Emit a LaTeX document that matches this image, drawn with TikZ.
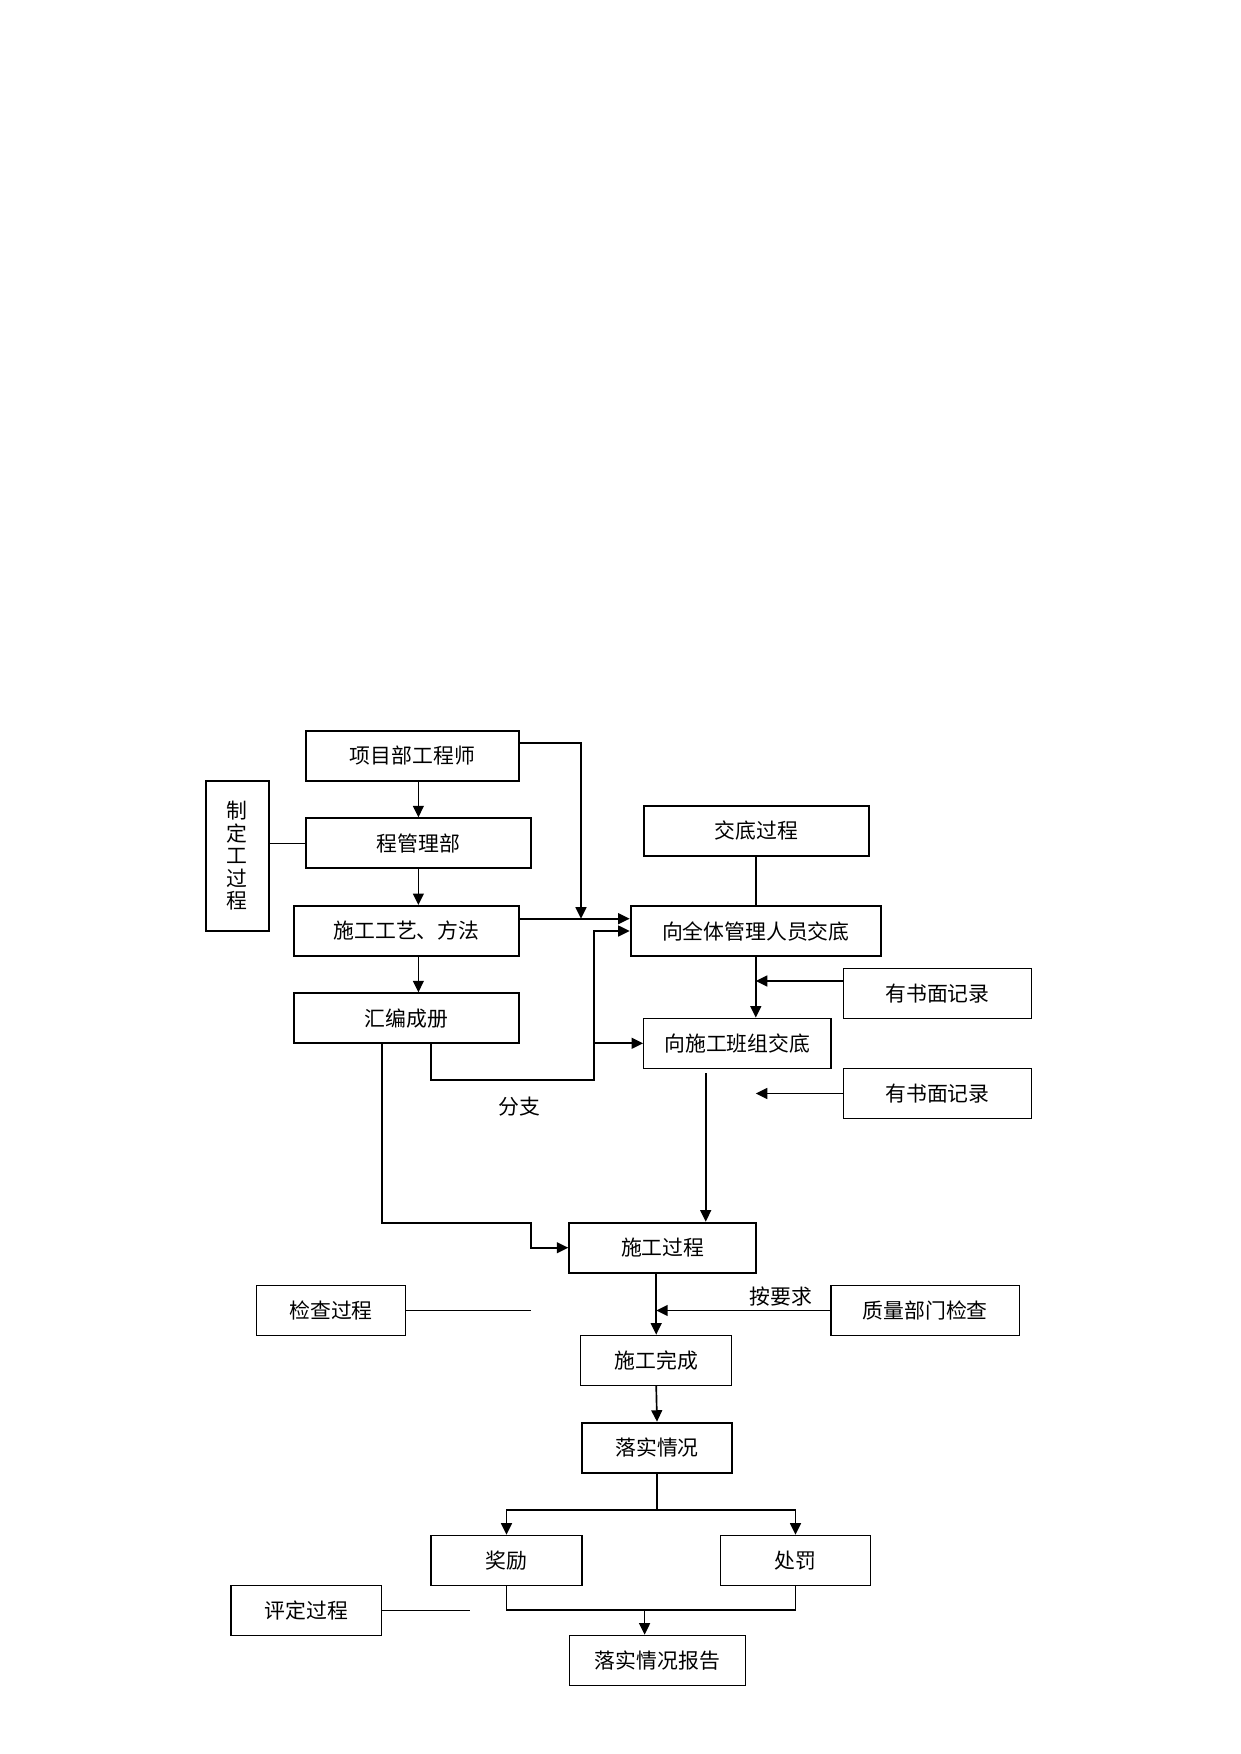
\documentclass[tikz,border=0pt]{standalone}
\usepackage{fontspec}
\setmainfont{Noto Sans CJK SC}
\usetikzlibrary{arrows.meta}
\begin{document}
\begin{tikzpicture}
	[x=0.4797pt,y=-0.4797pt,font=\fontsize{10pt}{10.8pt}\selectfont,
	box/.style={draw,line width=0.6pt,inner sep=0pt,minimum height=24pt,minimum width=#1*0.4797pt},
	bbox/.style={box=#1,line width=0.95pt},
	>={Triangle[length=5.5pt,width=5.2pt]}]
	\useasboundingbox (0,0) rectangle (1241,1754);
	\node[bbox=213.6] (xm) at (412.5,756) {项目部工程师};
	\node[bbox=225.3] (cg) at (418.4,843.3) {程管理部};
	\node[bbox=63.3,minimum height=72pt,align=center] (zd) at (237.4,855.7) {制\\定\\工\\过\\程};
	\node[bbox=225.6] (sg) at (406.5,931) {施工工艺、方法};
	\node[bbox=225.6] (hb) at (406.5,1018.3) {汇编成册};
	\node[bbox=225.3] (jd) at (756.3,830.9) {交底过程};
	\node[bbox=250.3] (qt) at (755.8,931) {向全体管理人员交底};
	\node[box=187.6] (jl1) at (937.5,993.5) {有书面记录};
	\node[box=187.3] (bz) at (737.3,1043.3) {向施工班组交底};
	\node[box=187.6] (jl2) at (937.5,1093.5) {有书面记录};
	\node (fz) at (519,1106.7) {分支};
	\node[bbox=186.9] (gc) at (662.7,1247.7) {施工过程};
	\node[box=149.7] (jc) at (331,1310.5) {检查过程};
	\node[box=188.5] (zl) at (925.2,1310.5) {质量部门检查};
	\node (ay) at (780.8,1296.7) {按要求};
	\node[box=150.8] (wc) at (656.2,1360.3) {施工完成};
	\node[bbox=150.9] (ls) at (657,1447.7) {落实情况};
	\node[box=150.9] (jl) at (506.5,1560.3) {奖励};
	\node[box=150.4] (cf) at (795.5,1560.3) {处罚};
	\node[box=150.4] (pd) at (306.2,1610.3) {评定过程};
	\node[box=176] (bg) at (657.4,1660.3) {落实情况报告};
	\coordinate (t1) at (581,918.7);
	\coordinate (b1) at (594.3,1080.3);
	\coordinate (s1) at (705.7,1073.3);
	\coordinate (c1) at (531,1222.7);
	\coordinate (f1) at (657,1510);
	\coordinate (g1) at (644.6,1610.3);
	\coordinate (p1) at (469.6,1610.3);
	\begin{scope}[line width=0.8pt]
		\draw[->] (xm.south -| cg.north) -- (cg.north);
		\draw[->] (cg.south) -- (cg.south |- sg.north);
		\draw[->] (cg.south |- sg.south) -- (cg.south |- hb.north);
		\draw[->] ([yshift=6.1pt]xm.east) -| (t1);
		\draw[->] (sg.east |- t1) -- (qt.west |- t1);
		\draw[->] ([xshift=11.75pt]hb.south) |- (b1) |- (qt.west);
		\draw[->] (b1 |- bz.west) -- (bz.west);
		\draw (jd.south) -- (jd.south |- qt.north);
		\draw[->] (qt.south) -- (qt.south |- bz.north);
		\draw[->] ([yshift=6pt]jl1.west) -- ([yshift=6pt]jl1.west -| qt.south);
		\draw[->] (jl2.west) -- (jl2.west -| qt.south);
		\draw[->] (s1) -- (s1 |- gc.north);
		\draw[->] ([xshift=-11.85pt]hb.south) |- (c1) |- (gc.west);
		\draw[->] (gc.south -| wc.north) -- (wc.north);
		\draw[->] (zl.west) -- (zl.west -| wc.north);
		\draw[->] (wc.south) -- (ls.north);
		\draw (ls.south) -- (f1);
		\draw[->] (f1) -| (jl.north);
		\draw[->] (f1) -| (cf.north);
		\draw (jl.south) |- (g1) -| (cf.south);
		\draw[->] (g1) -- (g1 |- bg.north);
	\end{scope}
	\draw[line width=0.55pt] (zd.east |- cg.west) -- (cg.west);
	\draw[line width=0.55pt] (jc.east) -- (jc.east -| c1);
	\draw[line width=0.55pt] (pd.east) -- (p1);
\end{tikzpicture}
\end{document}
